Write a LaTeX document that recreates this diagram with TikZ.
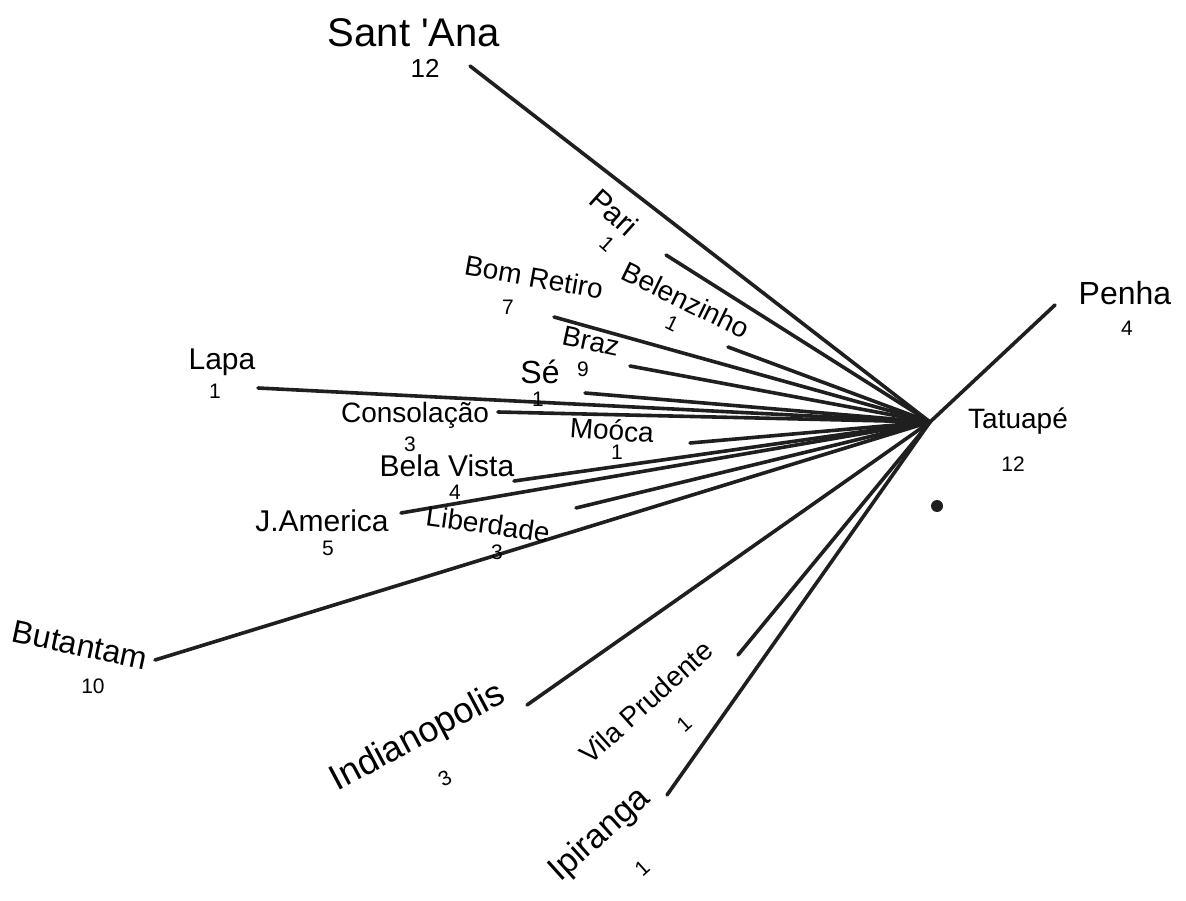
\documentclass[tikz,border=0pt]{standalone}
\usepackage{fontspec}
\newfontfamily\hand{Liberation Sans}
\tikzset{
  lbl/.style={inner sep=0pt, anchor=center, font=\hand\fontsize{#1}{#1}\selectfont},
  lbl/.default=28,
  num/.style={inner sep=0pt, anchor=center, font=\hand\fontsize{21}{21}\selectfont},
  ray/.style={line width=3.6pt, line cap=round, black!88}
}
\begin{document}
\begin{tikzpicture}[x=1pt,y=-1pt]
\useasboundingbox (0,0) rectangle (1186,901);
\fill[white] (0,0) rectangle (1186,901);
% hub
\coordinate (hub) at (930,422);
% line ends
\coordinate (eSantana) at (470,66);
\coordinate (ePari) at (666,255);
\coordinate (eBelen) at (728,347);
\coordinate (eBom) at (554,317);
\coordinate (eBraz) at (630,366);
\coordinate (eSe) at (585,393);
\coordinate (eLapa) at (258,388);
\coordinate (eConsol) at (498,412);
\coordinate (eMooca) at (690,443);
\coordinate (eBela) at (514,481);
\coordinate (eJam) at (401,513);
\coordinate (eLib) at (576,508);
\coordinate (eBut) at (155,660);
\coordinate (eInd) at (527,705);
\coordinate (eVila) at (738,655);
\coordinate (eIpi) at (667,795);
\coordinate (ePenha) at (1055,305);
% rays
\foreach \e in {eSantana,ePari,eBelen,eBom,eBraz,eSe,eLapa,eConsol,eMooca,eBela,eJam,eLib,eBut,eInd,eVila,eIpi,ePenha}
  \draw[ray] (\e) -- (hub);
% dot
\fill[black!88] (937,506) circle (6);
% labels
\node[lbl=40] (tSantana) at (414,33) {Sant 'Ana};
\node[num, font=\hand\fontsize{26}{26}\selectfont] (nSantana) at (425,68) {12};
\node[lbl=30, rotate=-42] (tPari) at (614,212) {Pari};
\node[num, rotate=-42] (nPari) at (607,244) {1};
\node[lbl=28, rotate=-26] (tBelen) at (686,300) {Belenzinho};
\node[num, rotate=-26] (nBelen) at (672,324) {1};
\node[lbl=28, rotate=-10] (tBom) at (534,277) {Bom Retiro};
\node[num] (nBom) at (508,307) {7};
\node[lbl=28, rotate=-12] (tBraz) at (591,341) {Braz};
\node[num] (nBraz) at (583,369) {9};
\node[lbl=32] (tSe) at (540,372) {Sé};
\node[num] (nSe) at (538,399) {1};
\node[lbl=30] (tLapa) at (222,362) {Lapa};
\node[num] (nLapa) at (215,391) {1};
\node[lbl=28] (tConsol) at (415,415) {Consolação};
\node[num] (nConsol) at (410,444) {3};
\node[lbl=28, rotate=-4] (tMooca) at (612,430) {Moóca};
\node[num] (nMooca) at (617,452) {1};
\node[lbl=30] (tBela) at (447,466) {Bela Vista};
\node[num] (nBela) at (455,492) {4};
\node[lbl=30] (tJam) at (322,521) {J.America};
\node[num] (nJam) at (328,548) {5};
\node[lbl=28, rotate=-8] (tLib) at (488,524) {Liberdade};
\node[num] (nLib) at (497,552) {3};
\node[lbl=32, rotate=-12] (tBut) at (80,645) {Butantam};
\node[num] (nBut) at (93,686) {10};
\node[lbl=36, rotate=28] (tInd) at (418,738) {Indianopolis};
\node[num, rotate=28] (nInd) at (445,778) {3};
\node[lbl=28, rotate=42] (tVila) at (646,702) {Vila Prudente};
\node[num, rotate=42] (nVila) at (684,724) {1};
\node[lbl=34, rotate=42] (tIpi) at (600,835) {Ipiranga};
\node[num, rotate=42] (nIpi) at (642,868) {1};
\node[lbl=32] (tPenha) at (1125,293) {Penha};
\node[num] (nPenha) at (1127,328) {4};
\node[lbl=28] (tTat) at (1018,421) {Tatuapé};
\node[num] (nTat) at (1013,464) {12};
\end{tikzpicture}
\end{document}
